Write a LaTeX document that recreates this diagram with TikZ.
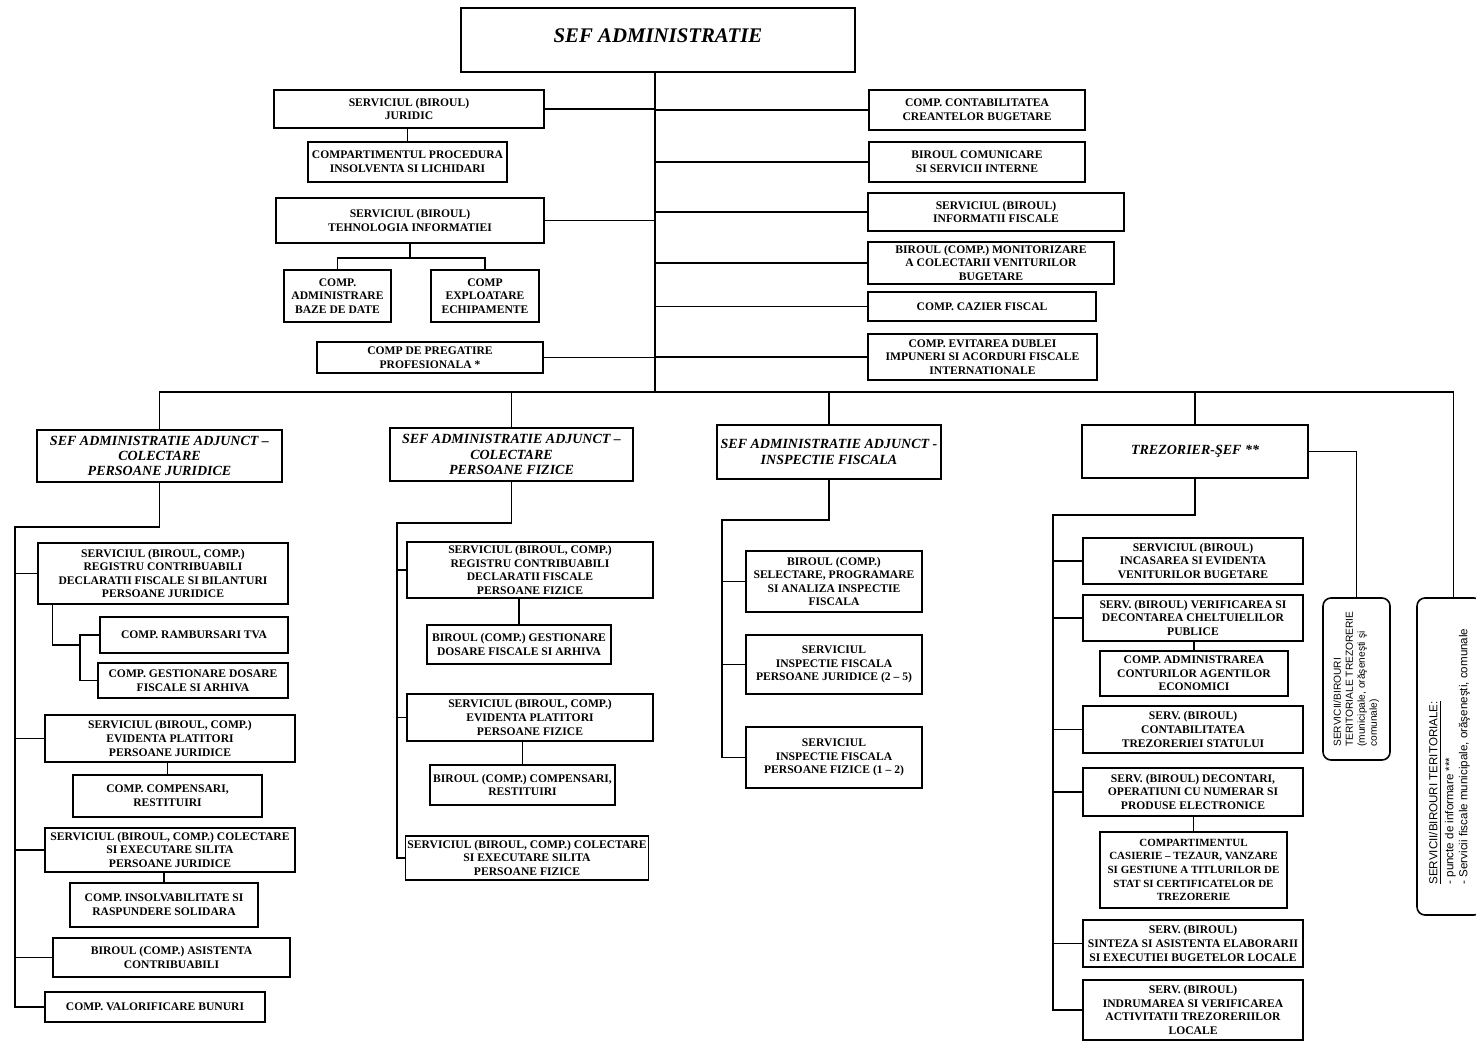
\documentclass[tikz,border=0pt]{standalone}
\usepackage{fontspec}
\setmainfont{Liberation Serif}
\setsansfont{Liberation Sans}
\usepackage{graphicx}

\begin{document}
\begin{tikzpicture}[x=0.5pt,y=-0.5pt,line width=0.7pt,
  unit/.style={draw, line width=0.8pt, inner sep=1pt, align=center, font=\bfseries\fontsize{5.8}{6.8}\selectfont},
  head/.style={unit, font=\bfseries\itshape\fontsize{7}{7.6}\selectfont},
  field/.style={draw, line width=0.8pt, rounded corners=4pt, inner sep=1pt, font=\sffamily\fontsize{5.1}{6}\selectfont}]
  \fill[white] (0,0) rectangle (1476,1043);
  \useasboundingbox (0,0) rectangle (1476,1043);

  % top
  \node[unit, font=\bfseries\itshape\fontsize{10.4}{12}\selectfont, minimum width=197pt, minimum height=32pt] (sef) at (658,40) {\raisebox{4pt}{SEF ADMINISTRATIE}};
  \coordinate (hub) at (655,392);

  % staff, left
  \node[unit, minimum width=135pt, minimum height=19pt] (juridic) at (409,109) {SERVICIUL (BIROUL)\\JURIDIC};
  \node[unit, minimum width=99.5pt, minimum height=20pt] (proc) at (407.5,162) {COMPARTIMENTUL PROCEDURA\\INSOLVENTA SI LICHIDARI};
  \node[unit, minimum width=134pt, minimum height=22.5pt] (ti) at (410,220.5) {SERVICIUL (BIROUL)\\TEHNOLOGIA INFORMATIEI};
  \node[unit, minimum width=53.5pt, minimum height=26pt] (baze) at (337.5,296) {COMP.\\ADMINISTRARE\\BAZE DE DATE};
  \node[unit, minimum width=54pt, minimum height=26pt] (expl) at (485,296) {COMP\\EXPLOATARE\\ECHIPAMENTE};
  \node[unit, minimum width=113pt, minimum height=15.5pt] (preg) at (430,357.5) {COMP DE PREGATIRE\\PROFESIONALA *};
  \coordinate (tisplit) at (411,258);

  % staff, right
  \node[unit, minimum width=108pt, minimum height=20pt] (creante) at (977,110) {COMP. CONTABILITATEA\\CREANTELOR BUGETARE};
  \node[unit, minimum width=108pt, minimum height=20pt] (comun) at (977,162) {BIROUL COMUNICARE\\SI SERVICII INTERNE};
  \node[unit, minimum width=128pt, minimum height=19pt] (inform) at (996,212) {SERVICIUL (BIROUL)\\INFORMATII FISCALE};
  \node[unit, minimum width=123pt, minimum height=21pt] (monit) at (991,263) {BIROUL (COMP.) MONITORIZARE\\A COLECTARII VENITURILOR\\BUGETARE};
  \node[unit, minimum width=114pt, minimum height=14.5pt] (cazier) at (982,306.5) {COMP. CAZIER FISCAL};
  \node[unit, minimum width=114.5pt, minimum height=23pt] (evit) at (982.5,357) {COMP. EVITAREA DUBLEI\\IMPUNERI SI ACORDURI FISCALE\\INTERNATIONALE};

  % colectare persoane juridice
  \node[head, minimum width=122.5pt, minimum height=26pt] (pj) at (159.5,456) {SEF ADMINISTRATIE ADJUNCT --\\COLECTARE\\PERSOANE JURIDICE};
  \node[unit, minimum width=125pt, minimum height=30.5pt] (regpj) at (163,573.5) {SERVICIUL (BIROUL, COMP.)\\REGISTRU CONTRIBUABILI\\DECLARATII FISCALE SI BILANTURI\\PERSOANE JURIDICE};
  \node[unit, minimum width=94pt, minimum height=18pt] (ramb) at (194,635) {COMP. RAMBURSARI TVA};
  \node[unit, minimum width=95pt, minimum height=17.5pt] (gestpj) at (193,680.5) {COMP. GESTIONARE DOSARE\\FISCALE SI ARHIVA};
  \node[unit, minimum width=125pt, minimum height=23.5pt] (evpj) at (170,738.5) {SERVICIUL (BIROUL, COMP.)\\EVIDENTA PLATITORI\\PERSOANE JURIDICE};
  \node[unit, minimum width=94.5pt, minimum height=21pt] (comppj) at (167.5,796) {COMP. COMPENSARI,\\RESTITUIRI};
  \node[unit, minimum width=125pt, minimum height=22pt] (colpj) at (170,850) {SERVICIUL (BIROUL, COMP.) COLECTARE\\SI EXECUTARE SILITA\\PERSOANE JURIDICE};
  \node[unit, minimum width=94pt, minimum height=22pt] (insolv) at (164,905) {COMP. INSOLVABILITATE SI\\RASPUNDERE SOLIDARA};
  \node[unit, minimum width=118.5pt, minimum height=19.5pt] (asist) at (171.5,957.5) {BIROUL (COMP.) ASISTENTA\\CONTRIBUABILI};
  \node[unit, minimum width=110pt, minimum height=15pt] (valor) at (155,1007) {COMP. VALORIFICARE BUNURI};
  \coordinate (pjbus) at (15,527);
  \coordinate (regfork) at (80,645);

  % colectare persoane fizice
  \node[head, minimum width=121.5pt, minimum height=26.5pt] (pf) at (511.5,454.5) {SEF ADMINISTRATIE ADJUNCT --\\COLECTARE\\PERSOANE FIZICE};
  \node[unit, minimum width=123pt, minimum height=28pt] (regpf) at (530,570) {SERVICIUL (BIROUL, COMP.)\\REGISTRU CONTRIBUABILI\\DECLARATII FISCALE\\PERSOANE FIZICE};
  \node[unit, minimum width=92pt, minimum height=19.5pt] (gestpf) at (519,644.5) {BIROUL (COMP.) GESTIONARE\\DOSARE FISCALE SI ARHIVA};
  \node[unit, minimum width=123pt, minimum height=23.5pt] (evpf) at (530,717.5) {SERVICIUL (BIROUL, COMP.)\\EVIDENTA PLATITORI\\PERSOANE FIZICE};
  \node[unit, minimum width=92.5pt, minimum height=20pt] (comppf) at (522.5,785) {BIROUL (COMP.) COMPENSARI,\\RESTITUIRI};
  \node[unit, minimum width=121pt, minimum height=22pt] (colpf) at (527,858) {SERVICIUL (BIROUL, COMP.) COLECTARE\\SI EXECUTARE SILITA\\PERSOANE FIZICE};
  \coordinate (pfbus) at (397,523);

  % inspectie fiscala
  \node[head, minimum width=112pt, minimum height=27pt] (insp) at (829,452) {SEF ADMINISTRATIE ADJUNCT -\\INSPECTIE FISCALA};
  \node[unit, minimum width=88pt, minimum height=30.5pt] (sel) at (834,581.5) {BIROUL (COMP.)\\SELECTARE, PROGRAMARE\\SI ANALIZA INSPECTIE\\FISCALA};
  \node[unit, minimum width=88pt, minimum height=29.5pt] (insppj) at (834,664.5) {SERVICIUL\\INSPECTIE FISCALA\\PERSOANE JURIDICE (2 -- 5)};
  \node[unit, minimum width=88pt, minimum height=30.5pt] (inspf) at (834,757.5) {SERVICIUL\\INSPECTIE FISCALA\\PERSOANE FIZICE (1 -- 2)};
  \coordinate (inbus) at (722,520);

  % trezorerie
  \node[head, minimum width=113pt, minimum height=26.5pt] (tz) at (1195,451.5) {TREZORIER-ŞEF **};
  \node[unit, minimum width=110pt, minimum height=23pt] (incas) at (1193,561) {SERVICIUL (BIROUL)\\INCASAREA SI EVIDENTA\\VENITURILOR BUGETARE};
  \node[unit, minimum width=110pt, minimum height=23pt] (verif) at (1193,618) {SERV. (BIROUL) VERIFICAREA SI\\DECONTAREA CHELTUIELILOR\\PUBLICE};
  \node[unit, minimum width=94pt, minimum height=22.5pt] (admc) at (1194,673.5) {COMP. ADMINISTRAREA\\CONTURILOR AGENTILOR\\ECONOMICI};
  \node[unit, minimum width=110pt, minimum height=23.5pt] (contab) at (1193,729.5) {SERV. (BIROUL)\\CONTABILITATEA\\TREZORERIEI STATULUI};
  \node[unit, minimum width=110pt, minimum height=24pt] (decont) at (1193,792) {SERV. (BIROUL) DECONTARI,\\OPERATIUNI CU NUMERAR SI\\PRODUSE ELECTRONICE};
  \node[unit, font=\bfseries\fontsize{5.5}{6.8}\selectfont, minimum width=93.5pt, minimum height=38pt] (casier) at (1193.5,870) {COMPARTIMENTUL\\CASIERIE -- TEZAUR, VANZARE\\SI GESTIUNE A TITLURILOR DE\\STAT SI CERTIFICATELOR DE\\TREZORERIE};
  \node[unit, minimum width=110pt, minimum height=23.5pt] (sint) at (1193,943.5) {SERV. (BIROUL)\\SINTEZA SI ASISTENTA ELABORARII\\SI EXECUTIEI BUGETELOR LOCALE};
  \node[unit, minimum width=110pt, minimum height=30pt] (indr) at (1193,1010) {SERV. (BIROUL)\\INDRUMAREA SI VERIFICAREA\\ACTIVITATII TREZORERIILOR\\LOCALE};
  \coordinate (tzbus) at (1053,515);

  % teritoriale
  \node[field, minimum width=33.5pt, minimum height=81pt] (terz) at (1356.5,679) {\rotatebox{90}{\begin{tabular}{@{}l@{}}SERVICII/BIROURI\\TERITORIALE TREZORERIE\\(municipale, orăşeneşti şi\\comunale)\end{tabular}}};
  \node[field, font=\sffamily\fontsize{5.8}{7}\selectfont, minimum width=32.5pt, minimum height=158.5pt] (terit) at (1449.5,756.5) {\rotatebox{90}{\begin{tabular}{@{}l@{}}\underline{SERVICII/BIROURI TERITORIALE:}\\[1pt]- puncte de informare ***\\- Servicii fiscale municipale, orăşeneşti, comunale\end{tabular}}};

  % links
  \draw (sef.south -| hub) -- (hub);
  \foreach \n in {juridic,ti,preg} \draw (\n.east) -- (\n.east -| hub);
  \foreach \n in {creante,comun,inform,monit,cazier,evit} \draw (\n.west) -- (\n.west -| hub);
  \draw (juridic.south -| proc.north) -- (proc.north);
  \draw (ti.south) -- (ti.south |- tisplit);
  \draw (baze.north) |- (tisplit) -| (expl.north);

  \draw (pj.north) |- (hub) -| ([xshift=2pt]terit.north);
  \foreach \n in {pf,insp,tz} \draw (\n.north) -- (\n.north |- hub);
  \draw (tz.east) -| (terz.north);

  \draw (pj.south) |- (pjbus) -- (pjbus |- valor.west) -- (valor.west);
  \foreach \n in {regpj,evpj,colpj,asist} \draw (\n.west) -- (\n.west -| pjbus);
  \draw ([xshift=7.5pt]regpj.south west) |- (regfork);
  \draw (ramb.west) -| (regfork) |- (gestpj.west);
  \draw (comppj.north) -- (comppj.north |- evpj.south);
  \draw (insolv.north) -- (insolv.north |- colpj.south);

  \draw (pf.south) |- (pfbus) -- (pfbus |- colpf.west) -- (colpf.west);
  \foreach \n in {regpf,evpf} \draw (\n.west) -- (\n.west -| pfbus);
  \draw (gestpf.north) -- (gestpf.north |- regpf.south);
  \draw (comppf.north) -- (comppf.north |- evpf.south);

  \draw (insp.south) |- (inbus) -- (inbus |- inspf.west) -- (inspf.west);
  \foreach \n in {sel,insppj} \draw (\n.west) -- (\n.west -| inbus);

  \draw (tz.south) |- (tzbus) -- (tzbus |- indr.west) -- (indr.west);
  \foreach \n in {incas,verif,contab,decont,sint} \draw (\n.west) -- (\n.west -| tzbus);
  \draw (admc.north) -- (admc.north |- verif.south);
  \draw (casier.north) -- (casier.north |- decont.south);
\end{tikzpicture}
\end{document}
